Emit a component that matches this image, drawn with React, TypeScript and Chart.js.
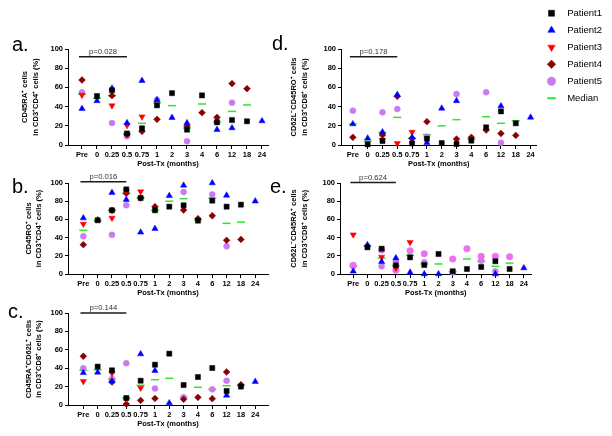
import React, { useEffect, useRef } from 'react';
import { Chart, registerables } from 'chart.js';
Chart.register(...registerables);

const FONT = '"Liberation Sans", Arial, sans-serif';
Chart.defaults.font.family = FONT;

// ---------- data ----------
const categories = ['Pre', '0', '0.25', '0.5', '0.75', '1', '2', '3', '4', '6', '12', '18', '24'];
const legendLabels = ['Patient1', 'Patient2', 'Patient3', 'Patient4', 'Patient5', 'Median'];
const xTitle = 'Post-Tx (months)';
const yTicks = [0, 20, 40, 60, 80, 100];

// a. CD45RA+ in CD3+CD4+
const aP1 = [null, 51, 57, 12, 17.4, 41.3, 54, 16, 51.7, 23.6, 26, 24.7, null];
const aP2 = [37.8, 46, 59, 23, 67, 47, 28.5, 23, null, 16, 17.7, null, 25];
const aP3 = [52, null, 41, 20.5, 29.5, null, null, null, null, null, null, null, null];
const aP4 = [67.7, null, 51.4, 10.8, 14.2, 26.7, null, 19.8, 33.7, 28.8, 64, 58.7, null];
const aP5 = [54.9, null, 23, 9, null, 47, null, 3.8, null, 24.3, 44, null, null];
const aMed = [53, 48.6, 51.4, 12, 22.6, 44, 41, 17.7, 42.7, 23.6, 35, 41.7, null];
const aP = 'p=0.028';

// b. CD45RO+ in CD3+CD4+
const bP1 = [null, 59, 70, 93, 83.5, 70, 74, 75.5, 58.6, 80.6, 74, 76.2, null];
const bP2 = [61.5, 59.3, 89.4, 81.7, 45.8, 49.8, 86, 97.4, null, 100, 86.4, null, 80];
const bP3 = [55, null, 61.5, 91, 90.5, null, null, null, null, null, null, null, null];
const bP4 = [32.2, null, 70, 88.6, 83.5, 74, null, 70.3, 60.8, 64, 37, 38, null];
const bP5 = [41.4, null, 43, 75.5, null, null, null, 90, null, 87.5, 30.4, null, null];
const bMed = [48, 59, 70, 88.6, 83.5, 70, 80, 82.8, 59.3, 83.5, 55.7, 57, null];
const bP = 'p=0.016';

// c. CD45RA+CD62L+ in CD3+CD8+
const cP1 = [null, 41.7, 37.7, 7.6, 26.4, 43.8, 55.8, 21.7, 30.4, 40.2, 15.2, 20, null];
const cP2 = [35, 35.5, 26, null, 55.4, 37.3, 2.2, null, null, null, 10.5, null, 25.4];
const cP3 = [25.7, null, 34.4, 6.2, 18.5, null, null, null, null, null, null, null, null];
const cP4 = [53, null, 25, 1, 5, 7.2, null, 6.2, 8.3, 6.9, 35.9, 22, null];
const cP5 = [39.9, null, 28.3, 45.5, null, 17.8, null, 8.3, null, 17, 26.4, null, null];
const cMed = [37.7, 38.4, 28.3, 7.2, 21.4, 27.5, 29, 8.3, 19.2, 17, 21, 21, null];
const cP = 'p=0.144';

// d. CD62L-CD45RO+ in CD3+CD8+
const dP1 = [null, 0.7, 4.2, null, 1.7, 6.6, 2, 1, 4.5, 18.4, 35, 22.6, null];
const dP2 = [21.9, 7, 13.5, 52.4, 8, 2.4, 38.2, 46, null, null, 40.6, null, 28.8];
const dP3 = [null, null, 5.2, 1.7, 13.5, null, null, null, null, null, null, null, null];
const dP4 = [8, null, 10.4, 50.7, 7, 24.3, null, 6.2, 8, 15.6, 12, 10, null];
const dP5 = [35.8, null, 34, 37.5, null, 8.7, null, 53, null, 54.9, 2.4, null, null];
const dMed = [21.9, 4, 13, 28.8, 7, 10.8, 20, 26.4, 6.2, 29.5, 22.6, 25.3, null];
const dP = 'p=0.178';

// e. CD62L-CD45RA+ in CD3+CD8+
const eP1 = [null, 29.3, 27.8, 9.5, 18.3, 9.9, 22, 3, 5.5, 7.7, 14, 5.5, null];
const eP2 = [3, 32, 13.5, 17.6, 1.8, 0, 0, null, null, null, 0, null, 6.6];
const eP3 = [43.2, null, 18.7, 6.6, 34.8, null, null, null, null, null, null, null, null];
const eP4 = [9.5, null, 26.4, 4, 25.6, 22.3, null, 16.5, 27.8, 19.4, 19.4, 19, null];
const eP5 = [8.5, null, 8.4, 14, null, 12.8, null, 1.8, null, 14.6, 3, null, null];
const eMed = [9.2, 30.7, 17.6, 9.5, 20.5, 11, 11, 2.6, 16.5, 14, 8.4, 12, null];
const eP = 'p=0.624';

// ---------- styles ----------
const patientStyles = [
  { color: '#000000', shape: 'rect', r: 3.6, rot: 0 },
  { color: '#0000ff', shape: 'triangle', r: 3.6, rot: 0 },
  { color: '#ff0000', shape: 'triangle', r: 3.6, rot: 180 },
  { color: '#8b0000', shape: 'rectRot', r: 3.4, rot: 0 },
  { color: '#c77cf0', shape: 'circle', r: 3, rot: 0 },
];
const medianColor = '#2ee62e';
const pinkP4 = { color: '#ee70ee', shape: 'circle', r: 3.3, rot: 0 };

const tickFont = { family: FONT, size: 7.5, weight: 'bold' as const };
const titleFont = { family: FONT, size: 7.5, weight: 'bold' as const, lineHeight: 1.45 };

const pBarPlugin = {
  id: 'pbar',
  afterDraw(chart: any, _args: any, opts: any) {
    const { ctx, scales } = chart;
    const x = scales.x, y = scales.y;
    const x0 = x.getPixelForValue(opts.from);
    const x1 = x.getPixelForValue(opts.to);
    const yy = y.getPixelForValue(opts.level);
    ctx.save();
    ctx.strokeStyle = '#1a1a1a';
    ctx.lineWidth = 1.5;
    ctx.beginPath();
    ctx.moveTo(x0, yy);
    ctx.lineTo(x1, yy);
    ctx.stroke();
    ctx.fillStyle = '#333';
    ctx.font = `7.7px ${FONT}`;
    ctx.textAlign = 'center';
    ctx.textBaseline = 'bottom';
    ctx.fillText(opts.text, (x0 + x1) / 2, yy - 1);
    ctx.restore();
  },
};

const toPts = (vals: (number | null)[]) =>
  vals.map((v, i) => (v == null ? null : { x: i, y: v })).filter(Boolean);

type Geo = {
  left: number; top: number; width: number; height: number;
  yAxisW: number; padTop: number; padRight: number;
  xMin: number; xMax: number; titlePad: number;
};

function Panel({ g, series, median, yTitle, pText, pLevel, styles }: any) {
  const ref = useRef<HTMLCanvasElement>(null);
  useEffect(() => {
    const datasets: any[] = series.map((vals: any, i: number) => {
      const s = styles[i];
      return {
        label: legendLabels[i],
        data: toPts(vals),
        pointStyle: s.shape,
        pointRadius: s.r,
        pointRotation: s.rot,
        pointBackgroundColor: s.color,
        pointBorderColor: s.color,
        pointBorderWidth: 0.5,
        showLine: false,
        clip: false,
      };
    });
    datasets.push({
      label: 'Median',
      data: toPts(median),
      pointStyle: 'line',
      pointRadius: 4,
      pointBorderWidth: 1.5,
      pointBorderColor: medianColor,
      pointBackgroundColor: medianColor,
      showLine: false,
      clip: false,
    });
    const geo: Geo = g;
    const chart = new Chart(ref.current as HTMLCanvasElement, {
      type: 'scatter',
      data: { datasets },
      plugins: [pBarPlugin],
      options: {
        responsive: false,
        animation: false,
        devicePixelRatio: 1,
        events: [],
        layout: { padding: { top: geo.padTop, right: geo.padRight, left: 0, bottom: 0 } },
        plugins: {
          legend: { display: false },
          tooltip: { enabled: false },
          pbar: { text: pText, level: pLevel, from: -0.2, to: 3.0 },
        } as any,
        scales: {
          x: {
            type: 'linear',
            min: geo.xMin,
            max: geo.xMax,
            afterBuildTicks: (s: any) => {
              s.ticks = categories.map((_, i) => ({ value: i }));
            },
            afterFit: (s: any) => { s.height = 27; },
            ticks: {
              autoSkip: false,
              maxRotation: 0,
              minRotation: 0,
              padding: 1,
              color: '#000',
              font: tickFont,
              callback: (v: any) => categories[v as number],
            },
            grid: { display: true, drawOnChartArea: false, drawTicks: true, tickLength: 4, color: '#000', lineWidth: 1 },
            border: { display: true, color: '#000', width: 1 },
            title: { display: true, text: xTitle, color: '#000', font: titleFont, padding: { top: 0, bottom: 3 } },
          },
          y: {
            type: 'linear',
            min: 0,
            max: 100,
            afterBuildTicks: (s: any) => {
              s.ticks = yTicks.map((v) => ({ value: v }));
            },
            afterFit: (s: any) => { s.width = geo.yAxisW; },
            ticks: { padding: 2, color: '#000', font: tickFont },
            grid: { display: true, drawOnChartArea: false, drawTicks: true, tickLength: 3, color: '#000', lineWidth: 1 },
            border: { display: true, color: '#000', width: 1 },
            title: { display: true, text: yTitle, color: '#000', font: titleFont, padding: { top: geo.titlePad, bottom: 0 } },
          },
        },
      } as any,
    });
    return () => chart.destroy();
  }, []);
  return (
    <canvas
      ref={ref}
      width={g.width}
      height={g.height}
      style={{ position: 'absolute', left: g.left, top: g.top, width: g.width, height: g.height }}
    />
  );
}

function LegendChart() {
  const ref = useRef<HTMLCanvasElement>(null);
  useEffect(() => {
    const datasets: any[] = legendLabels.map((label, i) => {
      if (i < 5) {
        const s = patientStyles[i];
        return {
          label, data: [], pointStyle: s.shape, pointRadius: s.r, pointRotation: s.rot,
          pointBackgroundColor: s.color, pointBorderColor: s.color, pointBorderWidth: 0.5,
        };
      }
      return {
        label, data: [], pointStyle: 'line', pointRadius: 4, pointBorderWidth: 2,
        pointBorderColor: medianColor, pointBackgroundColor: medianColor,
      };
    });
    const chart = new Chart(ref.current as HTMLCanvasElement, {
      type: 'scatter',
      data: { datasets },
      options: {
        responsive: false,
        animation: false,
        devicePixelRatio: 1,
        events: [],
        layout: { padding: 0 },
        scales: { x: { display: false }, y: { display: false } },
        plugins: {
          tooltip: { enabled: false },
          legend: {
            position: 'left',
            align: 'start',
            labels: {
              usePointStyle: true,
              boxWidth: 6,
              boxHeight: 6,
              padding: 7.5,
              color: '#000',
              font: { family: FONT, size: 9.5 },
              generateLabels: (c: any) =>
                (Chart.defaults.plugins.legend.labels as any)
                  .generateLabels(c)
                  .map((l: any) => ({ ...l, text: '   ' + l.text })),
            },
          },
        },
      } as any,
    });
    return () => chart.destroy();
  }, []);
  return (
    <canvas
      ref={ref}
      width={150}
      height={110}
      style={{ position: 'absolute', left: 541, top: 1, width: 150, height: 110 }}
    />
  );
}

const letterStyle = (left: number, top: number): React.CSSProperties => ({
  position: 'absolute', left, top, fontFamily: FONT, fontSize: 20, lineHeight: '20px', color: '#000',
});

const geoA: Geo = { left: 0, top: 30, width: 280, height: 142, yAxisW: 68, padTop: 19, padRight: 12, xMin: -0.933, xMax: 12.4, titlePad: 19.5 };
const geoB: Geo = { left: 0, top: 168, width: 280, height: 133, yAxisW: 68, padTop: 15, padRight: 12, xMin: -1.07, xMax: 12.89, titlePad: 23 };
const geoC: Geo = { left: 0, top: 298, width: 280, height: 134, yAxisW: 68, padTop: 15, padRight: 12, xMin: -1.07, xMax: 12.89, titlePad: 23 };
const geoD: Geo = { left: 270, top: 30, width: 272, height: 142, yAxisW: 71, padTop: 19, padRight: 4, xMin: -0.8, xMax: 12.4, titlePad: 18.25 };
const geoE: Geo = { left: 270, top: 168, width: 267, height: 133, yAxisW: 70, padTop: 15, padRight: 4, xMin: -0.93, xMax: 12.54, titlePad: 18.25 };

export default function App() {
  const eStyles = [patientStyles[0], patientStyles[1], patientStyles[2], pinkP4, patientStyles[4]];
  return (
    <div style={{ position: 'fixed', left: 0, top: 0, width: 612, height: 436, overflow: 'hidden', background: '#fff' }}>
      <Panel g={geoA} series={[aP1, aP2, aP3, aP4, aP5]} median={aMed} styles={patientStyles}
        yTitle={['CD45RA⁺ cells', 'in CD3⁺CD4⁺ cells (%)']} pText={aP} pLevel={92} />
      <Panel g={geoB} series={[bP1, bP2, bP3, bP4, bP5]} median={bMed} styles={patientStyles}
        yTitle={['CD45RO⁺ cells', 'in CD3⁺CD4⁺ cells (%)']} pText={bP} pLevel={101.5} />
      <Panel g={geoC} series={[cP1, cP2, cP3, cP4, cP5]} median={cMed} styles={patientStyles}
        yTitle={['CD45RA⁺CD62L⁺ cells', 'in CD3⁺CD8⁺ cells (%)']} pText={cP} pLevel={100} />
      <Panel g={geoD} series={[dP1, dP2, dP3, dP4, dP5]} median={dMed} styles={patientStyles}
        yTitle={['CD62L⁻CD45RO⁺ cells', 'in CD3⁺CD8⁺ cells (%)']} pText={dP} pLevel={92} />
      <Panel g={geoE} series={[eP1, eP2, eP3, eP4, eP5]} median={eMed} styles={eStyles}
        yTitle={['CD62L⁻CD45RA⁺ cells', 'in CD3⁺CD8⁺ cells (%)']} pText={eP} pLevel={100.5} />
      <LegendChart />
      <div style={letterStyle(12, 34)}>a.</div>
      <div style={letterStyle(12, 176)}>b.</div>
      <div style={letterStyle(8, 301)}>c.</div>
      <div style={letterStyle(272, 33)}>d.</div>
      <div style={letterStyle(270, 176)}>e.</div>
    </div>
  );
}
